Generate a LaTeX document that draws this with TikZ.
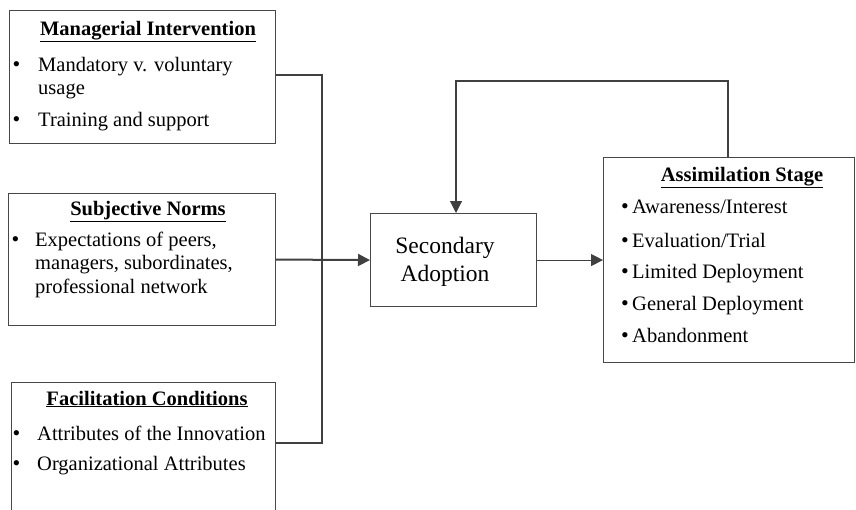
\documentclass[tikz,border=0pt]{standalone}
\usepackage{fontspec}
\setmainfont{Liberation Serif}
\usetikzlibrary{arrows.meta}
\begin{document}
\begin{tikzpicture}[x=1pt,y=-1pt,
 box/.style={draw=black!72, line width=1.1pt, inner sep=0, anchor=north west},
 txt/.style={inner sep=0, anchor=base west, font=\fontsize{20.5}{24}\selectfont},
 ttl/.style={inner sep=0, anchor=base, font=\fontsize{20.5}{24}\selectfont\bfseries},
 bul/.style={inner sep=0, anchor=base, font=\fontsize{22}{24}\selectfont},
 ln/.style={draw=black!75, line width=1.1pt},
 arr/.style={ln, -{Triangle[length=12pt,width=12pt]}}]
\useasboundingbox (0,0) rectangle (856,509);
% boxes
\node[box, minimum width=266pt, minimum height=133pt] (m) at (9,10) {};
\node[box, minimum width=267pt, minimum height=132pt] (s) at (8,193) {};
\node[box, minimum width=264pt, minimum height=150pt] (f) at (11,382) {};
\node[box, minimum width=166pt, minimum height=93pt] (sa) at (370,213) {};
\node[box, minimum width=251pt, minimum height=205pt] (as) at (603,157) {};
% box 1 text
\node[ttl] (mt) at (148,35) {\underline{Managerial Intervention}};
\node[bul] (mb1) at (16.5,71) {\textbullet};
\node[txt] (m1) at (38,71) {Mandatory v. voluntary};
\node[txt] (m2) at (38,94) {usage};
\node[bul] (mb2) at (16.5,126) {\textbullet};
\node[txt] (m3) at (38,126) {Training and support};
% box 2 text
\node[ttl] (st) at (148,215) {\underline{Subjective Norms}};
\node[bul] (sb1) at (15.5,246) {\textbullet};
\node[txt] (s1) at (35,246) {Expectations of peers,};
\node[txt] (s2) at (35,269.5) {managers, subordinates,};
\node[txt] (s3) at (35,293) {professional network};
% box 3 text
\node[ttl] (ft) at (147,405) {\underline{Facilitation Conditions}};
\node[bul] (fb1) at (16.5,440) {\textbullet};
\node[txt] (f1) at (37,440) {Attributes of the Innovation};
\node[bul] (fb2) at (16.5,470) {\textbullet};
\node[txt] (f2) at (37,470) {Organizational Attributes};
% secondary adoption text
\node[inner sep=0, anchor=base, font=\fontsize{23.5}{28}\selectfont] (sa1) at (445,253) {Secondary};
\node[inner sep=0, anchor=base, font=\fontsize{23.5}{28}\selectfont] (sa2) at (445,281) {Adoption};
% assimilation text
\node[ttl] (at) at (742,181) {\underline{Assimilation Stage}};
\node[bul] (ab1) at (625,213) {\textbullet};
\node[txt] (a1) at (632,213) {Awareness/Interest};
\node[bul] (ab2) at (625,247) {\textbullet};
\node[txt] (a2) at (632,247) {Evaluation/Trial};
\node[bul] (ab3) at (625,278) {\textbullet};
\node[txt] (a3) at (632,278) {Limited Deployment};
\node[bul] (ab4) at (625,310) {\textbullet};
\node[txt] (a4) at (632,310) {General Deployment};
\node[bul] (ab5) at (625,342) {\textbullet};
\node[txt] (a5) at (632,342) {Abandonment};
% connectors
\coordinate (j1) at (322,75);
\coordinate (j2) at (322,443);
\draw[ln] (m.east |- j1) -- (j1) -- (j2) -- (j2 -| f.east);
\draw[arr, line width=2pt] (s.east) -- (sa.west);
\draw[arr] (sa.east) -- (sa.east -| as.west);
\coordinate (k1) at (728,81);
\coordinate (k2) at (456,81);
\draw[arr] (as.north -| k1) -- (k1) -- (k2) -- (k2 |- sa.north);
\end{tikzpicture}
\end{document}
